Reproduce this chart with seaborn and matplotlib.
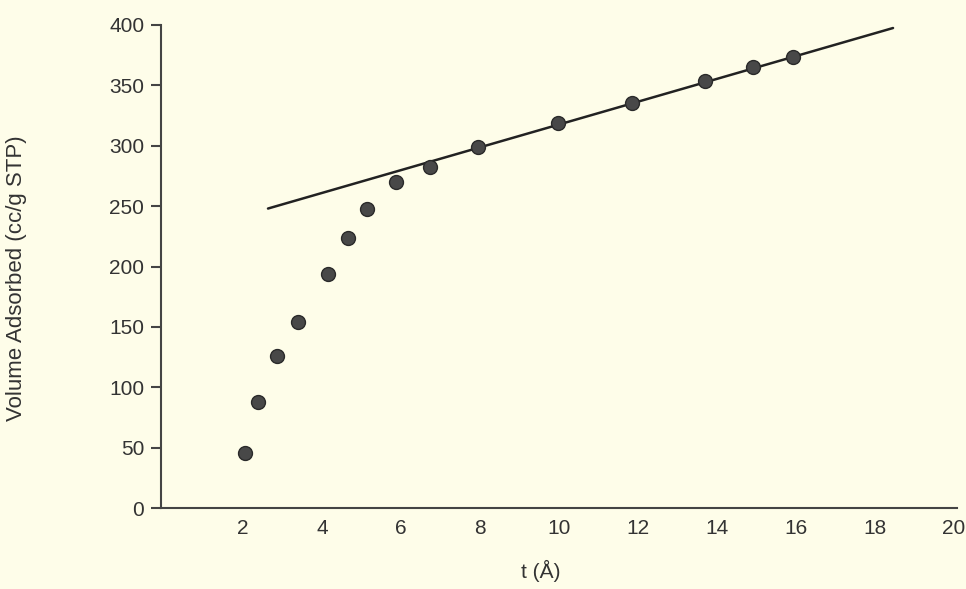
import numpy as np
import pandas as pd
import matplotlib
matplotlib.use("Agg")
import matplotlib.pyplot as plt
import seaborn as sns

# Points (t en Å, volume en cc/g STP)
t_points = [2.05, 2.38, 2.86, 3.39, 4.15, 4.66, 5.14, 5.87, 6.73, 7.95,
            9.97, 11.85, 13.70, 14.91, 15.92]
volume_points = [45.5, 87.5, 126, 154, 194, 224, 248, 270, 282, 299,
                 319, 335, 354, 365, 373.5]

# Droite d'ajustement (extrémités)
t_line = [2.63, 18.46]
volume_line = [248, 397.5]

x_ticks = [2, 4, 6, 8, 10, 12, 14, 16, 18, 20]
y_ticks = [0, 50, 100, 150, 200, 250, 300, 350, 400]

bg = "#fefde9"
ink = "#333333"

sns.set_theme(style="ticks")
plt.rcParams['font.family'] = ['Liberation Sans', 'DejaVu Sans']

fig = plt.figure(figsize=(9.66, 5.89), dpi=100, facecolor=bg)
ax = fig.add_axes([161 / 966, 1 - 508 / 589, (957 - 161) / 966, (508 - 25) / 589])
ax.set_facecolor(bg)

df_pts = pd.DataFrame({"t": t_points, "v": volume_points})
df_line = pd.DataFrame({"t": t_line, "v": volume_line})

sns.lineplot(data=df_line, x="t", y="v", ax=ax, color="#222222", linewidth=1.8)
sns.scatterplot(data=df_pts, x="t", y="v", ax=ax, s=100, color="#484848",
                edgecolor="#2a2a2a", linewidth=1.0, zorder=3)

ax.set_xlim(-0.08, 20.08)
ax.set_ylim(0, 400)
ax.set_xticks(x_ticks)
ax.set_yticks(y_ticks)

for side in ["top", "right"]:
    ax.spines[side].set_visible(False)
for side in ["left", "bottom"]:
    ax.spines[side].set_color("#444444")
    ax.spines[side].set_linewidth(1.5)

ax.tick_params(axis="y", length=7, width=1.5, color="#444444", pad=5,
               labelsize=15, labelcolor=ink)
ax.tick_params(axis="x", length=0, pad=8, labelsize=15, labelcolor=ink)

ax.set_xlabel("t (Å)", fontsize=15, color=ink)
ax.xaxis.set_label_coords((541 - 161) / (957 - 161), -0.108)
ax.set_ylabel("Volume Adsorbed (cc/g STP)", fontsize=16, color=ink)
ax.yaxis.set_label_coords((27 - 161) / (957 - 161), (508 - 278) / 483)

fig.savefig("out.png", dpi=100, facecolor=bg)
